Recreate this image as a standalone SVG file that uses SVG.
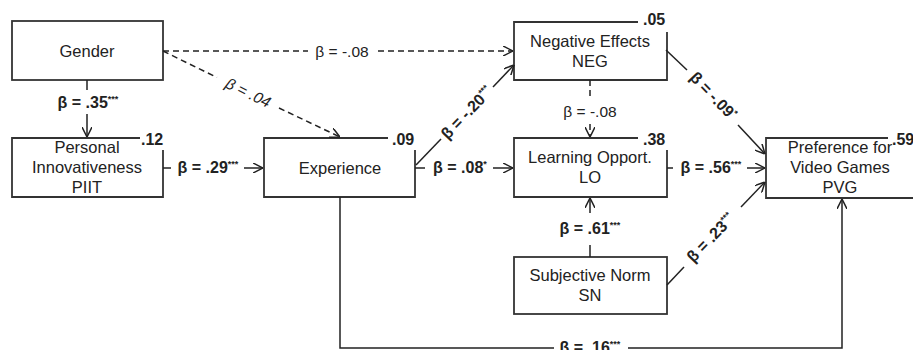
<svg xmlns="http://www.w3.org/2000/svg" width="913" height="350" viewBox="0 0 913 350">
<defs>
<marker id="arr" viewBox="0 0 10 10" refX="10" refY="5" markerWidth="10" markerHeight="10" markerUnits="userSpaceOnUse" orient="auto">
<path d="M0,0 L10,5 L0,10" fill="none" stroke="#222" stroke-width="1.5"/>
</marker>
<style>
.box{fill:none;stroke:#333;stroke-width:1.8}
.t{font-family:"Liberation Sans",Arial,sans-serif;font-size:16.5px;fill:#222;text-anchor:middle}
.r{font-family:"Liberation Sans",Arial,sans-serif;font-size:16px;font-weight:bold;fill:#222}
.b{font-family:"Liberation Sans",Arial,sans-serif;font-size:16px;font-weight:bold;fill:#222;text-anchor:middle}
.n{font-family:"Liberation Sans",Arial,sans-serif;font-size:15.5px;fill:#222;text-anchor:middle}
.s{font-size:9px}
.l{fill:none;stroke:#222;stroke-width:1.5}
.d{fill:none;stroke:#222;stroke-width:1.5;stroke-dasharray:6,4}
</style>
</defs>
<rect width="913" height="350" fill="#fff"/>

<g id="gender">
<rect class="box" x="12" y="21" width="151" height="59"/>
<text class="t" x="87" y="57">Gender</text>
</g>
<g id="piit">
<path class="box" d="M140,138 H12 V197 H163 V150"/>
<text class="r" x="141" y="145">.12</text>
<text class="t" x="87" y="153">Personal</text>
<text class="t" x="87" y="173">Innovativeness</text>
<text class="t" x="87" y="193">PIIT</text>
</g>
<g id="experience">
<path class="box" d="M388,138 H264 V197 H415 V150"/>
<text class="r" x="392" y="145">.09</text>
<text class="t" x="340" y="174">Experience</text>
</g>
<g id="neg">
<path class="box" d="M638,22 H514 V80 H667 V32"/>
<text class="r" x="643" y="25">.05</text>
<text class="t" x="590" y="47">Negative Effects</text>
<text class="t" x="590" y="67">NEG</text>
</g>
<g id="lo">
<path class="box" d="M638,138 H514 V197 H667 V150"/>
<text class="r" x="643" y="145">.38</text>
<text class="t" x="590" y="163">Learning Opport.</text>
<text class="t" x="590" y="183">LO</text>
</g>
<g id="sn">
<rect class="box" x="514" y="257" width="153" height="57"/>
<text class="t" x="590" y="281">Subjective Norm</text>
<text class="t" x="590" y="301">SN</text>
</g>
<g id="pvg">
<path class="box" d="M888,138 H766 V198 H920"/>
<text class="r" x="892" y="145">.59</text>
<text class="t" x="840" y="153">Preference for</text>
<text class="t" x="840" y="173">Video Games</text>
<text class="t" x="840" y="193">PVG</text>
</g>

<g id="connectors">
<!-- Gender -> PIIT -->
<line class="l" x1="87" y1="80" x2="87" y2="90"/>
<line class="l" x1="87" y1="114" x2="87" y2="137" marker-end="url(#arr)"/>
<text class="b" x="88" y="108">β = .35<tspan class="s" dy="-6">***</tspan></text>
<!-- Gender -> NEG -->
<line class="d" x1="163" y1="51" x2="308" y2="51"/>
<line class="d" x1="378" y1="51" x2="513" y2="51" marker-end="url(#arr)"/>
<text class="n" x="342" y="57">β = -.08</text>
<!-- Gender -> Experience -->
<line class="d" x1="163" y1="51" x2="217" y2="77.5"/>
<line class="d" x1="279" y1="108" x2="340" y2="137" marker-end="url(#arr)"/>
<text class="n" x="0" y="5" font-style="italic" transform="translate(248,93) rotate(26)">β = .04</text>
<!-- PIIT -> Experience -->
<line class="l" x1="163" y1="168" x2="171" y2="168"/>
<line class="l" x1="244" y1="168" x2="263" y2="168" marker-end="url(#arr)"/>
<text class="b" x="208" y="173">β = .29<tspan class="s" dy="-6">***</tspan></text>
<!-- Experience -> NEG -->
<line class="l" x1="416" y1="165" x2="441" y2="139"/>
<line class="l" x1="493" y1="87" x2="514" y2="65" marker-end="url(#arr)"/>
<text class="b" x="0" y="5" transform="translate(467,113) rotate(-46)">β = -.20<tspan class="s" dy="-6">***</tspan></text>
<!-- Experience -> LO -->
<line class="l" x1="415" y1="168" x2="425" y2="168"/>
<line class="l" x1="493" y1="168" x2="513" y2="168" marker-end="url(#arr)"/>
<text class="b" x="460" y="173">β = .08<tspan class="s" dy="-6">*</tspan></text>
<!-- NEG -> LO -->
<line class="d" x1="590" y1="80" x2="590" y2="98"/>
<line class="d" x1="590" y1="124" x2="590" y2="137" marker-end="url(#arr)"/>
<text class="n" x="590" y="117">β = -.08</text>
<!-- NEG -> PVG -->
<line class="l" x1="666" y1="50" x2="687" y2="70"/>
<line class="l" x1="738" y1="125" x2="765" y2="154" marker-end="url(#arr)"/>
<text class="b" x="0" y="5" transform="translate(713,96) rotate(46)">β = -.09<tspan class="s" dy="-6">*</tspan></text>
<!-- LO -> PVG -->
<line class="l" x1="667" y1="168" x2="673" y2="168"/>
<line class="l" x1="747" y1="168" x2="765" y2="168" marker-end="url(#arr)"/>
<text class="b" x="711" y="173">β = .56<tspan class="s" dy="-6">***</tspan></text>
<!-- SN -> LO -->
<line class="l" x1="590" y1="257" x2="590" y2="245"/>
<line class="l" x1="590" y1="213" x2="590" y2="198" marker-end="url(#arr)"/>
<text class="b" x="590" y="234">β = .61<tspan class="s" dy="-6">***</tspan></text>
<!-- SN -> PVG -->
<line class="l" x1="667" y1="285" x2="684" y2="267"/>
<line class="l" x1="741" y1="207" x2="765" y2="182" marker-end="url(#arr)"/>
<text class="b" x="0" y="5" transform="translate(711,238) rotate(-46)">β = .23<tspan class="s" dy="-6">***</tspan></text>
<!-- Experience -> PVG -->
<polyline class="l" points="340,197 340,348 554,348"/>
<polyline class="l" points="628,348 842,348 842,199" marker-end="url(#arr)"/>
<text class="b" x="590" y="353">β = .16<tspan class="s" dy="-6">***</tspan></text>
</g>
</svg>
